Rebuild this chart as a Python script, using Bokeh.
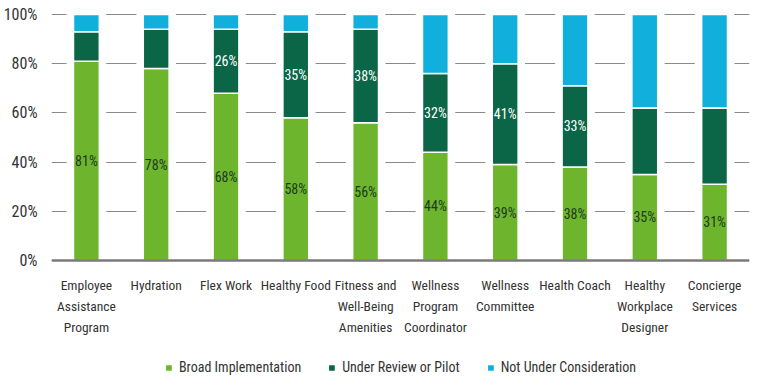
from bokeh.plotting import figure
from bokeh.models import (ColumnDataSource, FixedTicker, PrintfTickFormatter, Legend,
                          LegendItem, Span, Range1d)
from bokeh.embed import file_html
from bokeh.resources import INLINE
from bokeh.core.properties import value

categories = ["Employee\nAssistance\nProgram", "Hydration", "Flex Work", "Healthy Food",
              "Fitness and\nWell-Being\nAmenities", "Wellness\nProgram\nCoordinator",
              "Wellness\nCommittee", "Health Coach", "Healthy\nWorkplace\nDesigner",
              "Concierge\nServices"]
broad = [81, 78, 68, 58, 56, 44, 39, 38, 35, 31]
review = [12, 16, 26, 35, 38, 32, 41, 33, 27, 31]
not_under = [7, 6, 6, 7, 6, 24, 20, 29, 38, 38]
review_labelled = [False, False, True, True, True, True, True, True, False, False]
y_ticks = [0, 20, 40, 60, 80, 100]
series_names = ["Broad Implementation", "Under Review or Pilot", "Not Under Consideration"]

FONT = "Roboto Condensed, Roboto"
TXT = "#333333"
C_BROAD = "#6cb52d"
C_REVIEW = "#0a6647"
C_NOT = "#10afdc"

# layout: the frame runs to the bottom of the figure so the category labels and the
# legend live inside it, below the 0% line
W, H, TOP, LEFT, RIGHT = 752, 375, 7, 45, 3
FRAME_H = H - TOP
PLOT_PX = 246                      # pixels used by 0..100 %
TOP_GAP_PX = 7                     # space between frame top and the 100% line
ppu = PLOT_PX / 100.0
y_end = 100 + TOP_GAP_PX / ppu
y_start = y_end - FRAME_H / ppu

b0 = [0] * len(broad)
b1 = broad
b2 = [a + b for a, b in zip(broad, review)]
b3 = [a + b for a, b in zip(b2, not_under)]

src = ColumnDataSource(dict(
    x=categories, b0=b0, b1=b1, b2=b2, b3=b3,
    bl=[f"{v}%" for v in broad], bm=[(a + b) / 2 for a, b in zip(b0, b1)],
))
rsrc = ColumnDataSource(dict(
    x=[c for c, f in zip(categories, review_labelled) if f],
    y=[(a + b) / 2 for a, b, f in zip(b1, b2, review_labelled) if f],
    t=[f"{v}%" for v, f in zip(review, review_labelled) if f],
))

# category label lines, each centred under its bar
lx, ly, lt = [], [], []
for c in categories:
    for k, line in enumerate(c.split("\n")):
        lx.append(c)
        ly.append(-(24 + 21 * k) / ppu)
        lt.append(line)
lsrc = ColumnDataSource(dict(x=lx, y=ly, t=lt))

p = figure(x_range=categories, y_range=Range1d(y_start, y_end), width=W, height=H,
           output_backend="svg", toolbar_location=None, x_axis_location=None,
           min_border_left=LEFT, min_border_right=RIGHT, min_border_top=TOP,
           min_border_bottom=0)
p.outline_line_color = None

# white backing to break gridlines around bars
p.vbar(x="x", bottom="b0", top="b3", width=0.54, source=src, fill_color="white",
       line_color="white", line_width=2)

r1 = p.vbar(x="x", bottom="b0", top="b1", width=0.37, source=src, fill_color=C_BROAD,
            line_color="white", line_width=1.5)
r2 = p.vbar(x="x", bottom="b1", top="b2", width=0.37, source=src, fill_color=C_REVIEW,
            line_color="white", line_width=1.5)
r3 = p.vbar(x="x", bottom="b2", top="b3", width=0.37, source=src, fill_color=C_NOT,
            line_color="white", line_width=1.5)

p.text(x="x", y="bm", text="bl", source=src, text_align="center", text_baseline="middle",
       text_font=value(FONT), text_font_size="14px", text_color="#1e3a1e")
p.text(x="x", y="y", text="t", source=rsrc, text_align="center", text_baseline="middle",
       text_font=value(FONT), text_font_size="14px", text_color="white")
p.text(x="x", y="y", text="t", source=lsrc, text_align="center", text_baseline="middle",
       text_font=value(FONT), text_font_size="13.5px", text_color=TXT)

# baseline (x axis line)
p.add_layout(Span(location=0, dimension="width", line_color="#7a7a7a", line_width=2.5))

p.ygrid.ticker = FixedTicker(ticks=y_ticks)
p.ygrid.grid_line_color = "#8a8a8a"
p.ygrid.grid_line_width = 1
p.xgrid.grid_line_color = None
p.yaxis.ticker = FixedTicker(ticks=y_ticks)
p.yaxis.formatter = PrintfTickFormatter(format="%d%%")
p.yaxis.axis_line_color = None
p.yaxis.major_tick_line_color = None
p.yaxis.minor_tick_line_color = None
p.yaxis.major_tick_out = 0
p.yaxis.major_label_text_font = FONT
p.yaxis.major_label_text_font_size = "16px"
p.yaxis.major_label_text_color = TXT
p.yaxis.major_label_standoff = 14

legend = Legend(items=[LegendItem(label=series_names[0], renderers=[r1]),
                       LegendItem(label=series_names[1], renderers=[r2]),
                       LegendItem(label=series_names[2], renderers=[r3])],
                orientation="horizontal", location="bottom_center",
                label_text_font=FONT, label_text_font_size="14px", label_text_color=TXT,
                glyph_width=9, glyph_height=9, label_standoff=6, spacing=26, label_height=16,
                border_line_color=None, background_fill_alpha=0, padding=0, margin=0)
p.add_layout(legend, "center")

open("out.html", "w").write(file_html(p, INLINE))
